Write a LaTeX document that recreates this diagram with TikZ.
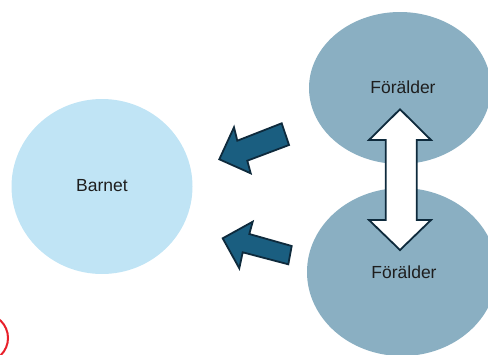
\documentclass[tikz,border=0pt]{standalone}
\usepackage{fontspec}
\setmainfont{Liberation Sans}
\definecolor{childblue}{RGB}{192,228,245}
\definecolor{parentblue}{RGB}{138,175,194}
\definecolor{arrowblue}{RGB}{26,94,128}
\definecolor{arrowedge}{RGB}{14,42,60}
\definecolor{ringred}{RGB}{232,32,42}
\definecolor{labeltext}{RGB}{30,30,30}
\begin{document}
\begin{tikzpicture}[x=1pt,y=-1pt,
  childfill/.style={fill=childblue, draw=none},
  parentfill/.style={fill=parentblue, draw=none},
  label/.style={font=\fontsize{17.5}{20}\selectfont, text=labeltext},
  blockarrow/.style={fill=arrowblue, draw=arrowedge, line width=1.8pt, line join=miter},
  doublearrow/.style={fill=white, draw=arrowedge, line width=1.8pt, line join=miter}]
\useasboundingbox (0,0) rectangle (488,354);

% child and parents
\fill[childfill] (102,186.5) ellipse [x radius=90.5, y radius=87.5];
\node[label] (barnet) at (102,186) {Barnet};

\fill[parentfill] (400,88) ellipse [x radius=91, y radius=76];
\node[label] (p1) at (403,87) {Förälder};

\fill[parentfill] (402,272) ellipse [x radius=95, y radius=84];
\node[label] (p2) at (404,272) {Förälder};

% arrows pointing to the child
\draw[blockarrow] (281.7,123.3) -- (289,145) -- (247.3,160.7) -- (250.7,173.3)
  -- (219.3,159.3) -- (234,127.3) -- (237.3,140.7) -- cycle;
\draw[blockarrow] (291.7,246) -- (288.3,264.3) -- (242.7,252.3) -- (239.3,268.3)
  -- (222.7,238.3) -- (252.7,221.7) -- (249.3,234) -- cycle;

% two-headed arrow between the parents
\draw[doublearrow] (400,109.3) -- (431,140) -- (416.7,140) -- (416.7,220) -- (431,220)
  -- (400,250) -- (369,220) -- (385.7,220) -- (385.7,140) -- (369,140) -- cycle;

% red ring in the corner
\draw[ringred, line width=2pt] (-16,338) circle [radius=24];
\end{tikzpicture}
\end{document}
